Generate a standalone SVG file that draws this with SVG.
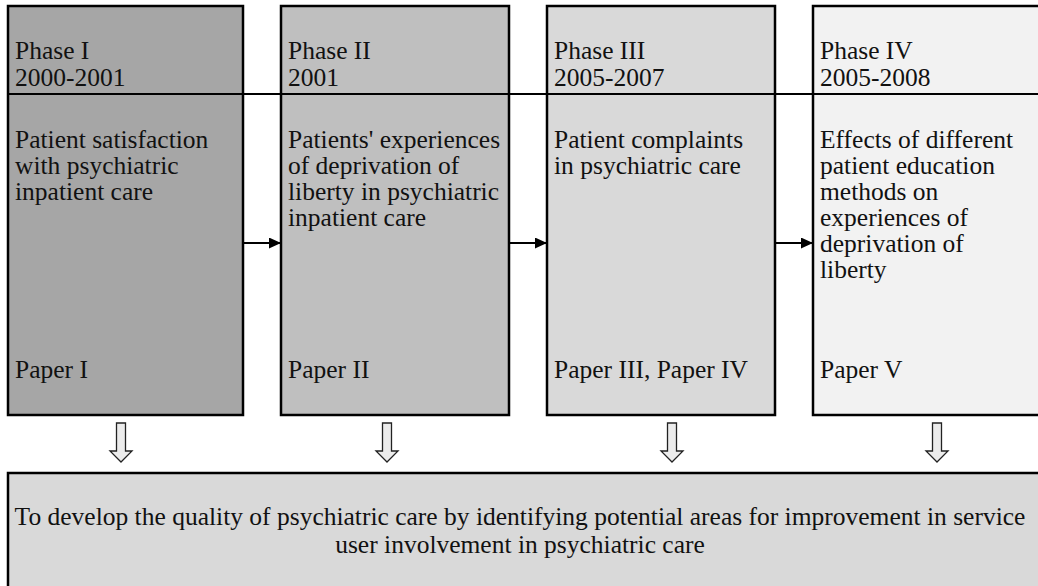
<svg xmlns="http://www.w3.org/2000/svg" width="1038" height="586" viewBox="0 0 1038 586">
<defs>
<style>
.box{stroke:#000;stroke-width:2.5}
text{font-family:'Liberation Serif',serif;font-size:25.5px;fill:#111}
.c{stroke:#000;stroke-width:2;fill:none}
.dn{fill:#ececec;stroke:#222;stroke-width:1.3}
</style>
<marker id="ah" markerWidth="12" markerHeight="11" refX="12" refY="5.5" orient="auto" markerUnits="userSpaceOnUse">
<path d="M0,0 L12,5.5 L0,11 Z" fill="#000"/>
</marker>
<path id="down" d="M-4.5,0 H4.5 V28 H11 L0,39 L-11,28 H-4.5 Z"/>
</defs>
<rect width="1038" height="586" fill="#fff"/>
<g id="phase1" font-family="Liberation Serif, serif">
<rect class="box" x="8" y="6" width="235" height="409" fill="#a6a6a6"/>
<text x="15" y="59">Phase I</text>
<text x="15" y="86">2000-2001</text>
<text x="15" y="148">Patient satisfaction</text>
<text x="15" y="174">with psychiatric</text>
<text x="15" y="200">inpatient care</text>
<text x="15" y="378">Paper I</text>
</g>
<g id="phase2" font-family="Liberation Serif, serif">
<rect class="box" x="281" y="6" width="228" height="409" fill="#bfbfbf"/>
<text x="288" y="59">Phase II</text>
<text x="288" y="86">2001</text>
<text x="288" y="148">Patients' experiences</text>
<text x="288" y="174">of deprivation of</text>
<text x="288" y="200">liberty in psychiatric</text>
<text x="288" y="226">inpatient care</text>
<text x="288" y="378">Paper II</text>
</g>
<g id="phase3" font-family="Liberation Serif, serif">
<rect class="box" x="547" y="6" width="228" height="409" fill="#d9d9d9"/>
<text x="554" y="59">Phase III</text>
<text x="554" y="86">2005-2007</text>
<text x="554" y="148">Patient complaints</text>
<text x="554" y="174">in psychiatric care</text>
<text x="554" y="378">Paper III, Paper IV</text>
</g>
<g id="phase4" font-family="Liberation Serif, serif">
<rect class="box" x="813" y="6" width="240" height="409" fill="#f2f2f2"/>
<text x="820" y="59">Phase IV</text>
<text x="820" y="86">2005-2008</text>
<text x="820" y="148">Effects of different</text>
<text x="820" y="174">patient education</text>
<text x="820" y="200">methods on</text>
<text x="820" y="226">experiences of</text>
<text x="820" y="252">deprivation of</text>
<text x="820" y="278">liberty</text>
<text x="820" y="378">Paper V</text>
</g>
<g id="goal" font-family="Liberation Serif, serif">
<rect class="box" x="8" y="473" width="1045" height="130" fill="#d9d9d9"/>
<text x="520" y="525" text-anchor="middle">To develop the quality of psychiatric care by identifying potential areas for improvement in service</text>
<text x="520" y="553" text-anchor="middle">user involvement in psychiatric care</text>
</g>
<g id="connectors">
<line class="c" x1="8" y1="94" x2="1038" y2="94"/>
<line class="c" x1="243" y1="243" x2="281" y2="243" marker-end="url(#ah)"/>
<line class="c" x1="509" y1="243" x2="547" y2="243" marker-end="url(#ah)"/>
<line class="c" x1="775" y1="243" x2="813" y2="243" marker-end="url(#ah)"/>
<use href="#down" class="dn" x="121" y="423"/>
<use href="#down" class="dn" x="387" y="423"/>
<use href="#down" class="dn" x="672" y="423"/>
<use href="#down" class="dn" x="937" y="423"/>
</g>
</svg>
